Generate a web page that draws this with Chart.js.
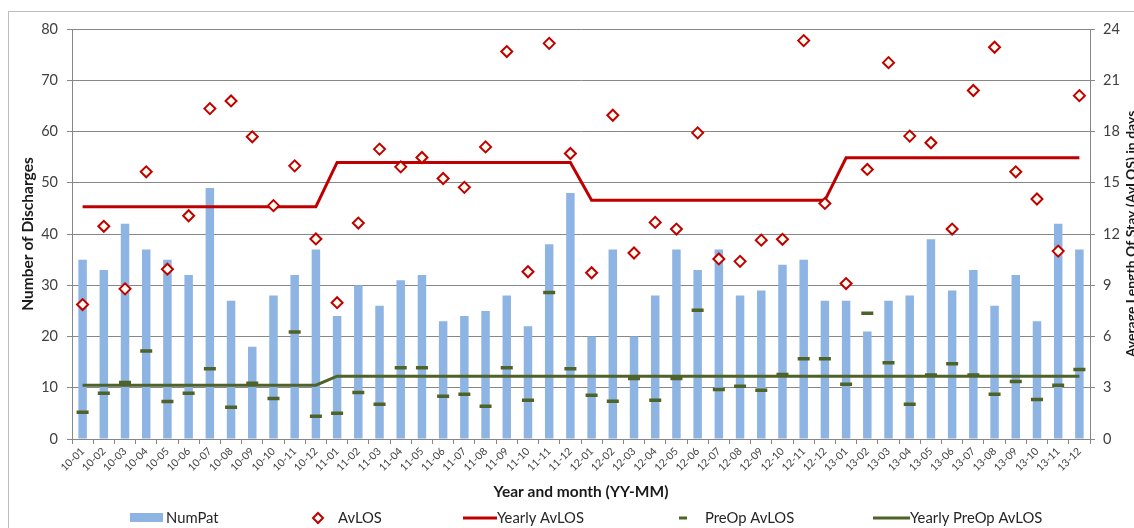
<!DOCTYPE html>
<html><head><meta charset="utf-8">
<script src="https://cdn.jsdelivr.net/npm/chart.js@4"></script>
<style>html,body{margin:0;padding:0;background:#fff;overflow:hidden}#wrap{width:1134px;height:528px;position:relative}</style>
</head><body><div id="wrap"><canvas id="c" width="1134" height="528"></canvas></div>
<script>
const months = ['10-01','10-02','10-03','10-04','10-05','10-06','10-07','10-08','10-09','10-10','10-11','10-12',
'11-01','11-02','11-03','11-04','11-05','11-06','11-07','11-08','11-09','11-10','11-11','11-12',
'12-01','12-02','12-03','12-04','12-05','12-06','12-07','12-08','12-09','12-10','12-11','12-12',
'13-01','13-02','13-03','13-04','13-05','13-06','13-07','13-08','13-09','13-10','13-11','13-12'];
const numPat = [35,33,42,37,35,32,49,27,18,28,32,37, 24,30,26,31,32,23,24,25,28,22,38,48,
20,37,20,28,37,33,37,28,29,34,35,27, 27,21,27,28,39,29,33,26,32,23,42,37];
const avLOS = [7.87,12.45,8.79,15.64,9.94,13.07,19.34,19.79,17.69,13.66,15.99,11.71,
7.98,12.64,16.97,15.93,16.48,15.25,14.73,17.10,22.68,9.79,23.16,16.71,
9.73,18.95,10.89,12.68,12.29,17.92,10.54,10.40,11.64,11.69,23.32,13.79,
9.10,15.78,22.03,17.73,17.34,12.29,20.40,22.93,15.64,14.05,11.00,20.10];
const preOpAvLOS = [1.57,2.68,3.31,5.15,2.19,2.68,4.11,1.86,3.27,2.37,6.26,1.33,
1.51,2.72,2.04,4.17,4.17,2.50,2.62,1.92,4.17,2.27,8.57,4.11,
2.56,2.21,3.54,2.27,3.54,7.53,2.90,3.09,2.86,3.78,4.70,4.70,
3.21,7.36,4.46,2.04,3.74,4.40,3.74,2.62,3.37,2.31,3.15,4.07];
const years = ['10','11','12','13'];
const yearlyAvLOS = [13.60, 16.19, 13.97, 16.46];
const yearlyPreOpAvLOS = [3.15, 3.68, 3.68, 3.68];
const leftAxis = {min:0, max:80, step:10};
const rightAxis = {min:0, max:24, step:3};

const byYear = arr => months.map(m => arr[years.indexOf(m.slice(0,2))]);

const FONT = 'Lato, "Noto Sans", sans-serif';
Chart.defaults.font.family = FONT;
const GRID = '#878787';
const TXT = '#404040';

const decor = {
  id:'decor',
  afterDraw(chart){
    const ctx = chart.ctx;
    ctx.save();
    ctx.strokeStyle = '#BDBDBD'; ctx.lineWidth = 1;
    ctx.strokeRect(8.5, 11.5, 1140, 530);
    ctx.fillStyle = '#1a1a1a';
    ctx.textAlign = 'center'; ctx.textBaseline = 'middle';
    const ca = chart.chartArea;
    const cy = (ca.top + ca.bottom)/2;
    ctx.font = 'bold 15.5px ' + FONT;
    ctx.save(); ctx.translate(28, cy); ctx.rotate(-Math.PI/2);
    ctx.fillText('Number of Discharges', 0, 0); ctx.restore();
    ctx.font = 'bold 14px ' + FONT;
    ctx.save(); ctx.translate(1131, cy); ctx.rotate(-Math.PI/2);
    ctx.fillText('Average Length Of Stay (AvLOS) in days', 0, 0); ctx.restore();
    ctx.font = 'bold 15.5px ' + FONT;
    ctx.fillText('Year and month (YY-MM)', (ca.left + ca.right)/2, 492);
    const ly = 518;
    ctx.font = '14.8px ' + FONT; ctx.textAlign = 'left';
    ctx.fillStyle = '#8DB4E2'; ctx.fillRect(130, 513, 33, 9);
    ctx.fillStyle = '#262626'; ctx.fillText('NumPat', 166, ly);
    ctx.beginPath(); ctx.moveTo(318, ly-5); ctx.lineTo(323, ly); ctx.lineTo(318, ly+5); ctx.lineTo(313, ly); ctx.closePath();
    ctx.fillStyle = '#fff'; ctx.fill(); ctx.strokeStyle = '#C00000'; ctx.lineWidth = 2; ctx.stroke();
    ctx.fillStyle = '#262626'; ctx.fillText('AvLOS', 338, ly);
    ctx.strokeStyle = '#C00000'; ctx.lineWidth = 3;
    ctx.beginPath(); ctx.moveTo(463, ly); ctx.lineTo(497, ly); ctx.stroke();
    ctx.fillText('Yearly AvLOS', 497, ly);
    ctx.strokeStyle = '#4F6228'; ctx.lineWidth = 3;
    ctx.beginPath(); ctx.moveTo(679, ly); ctx.lineTo(687, ly); ctx.stroke();
    ctx.fillText('PreOp AvLOS', 705, ly);
    ctx.beginPath(); ctx.moveTo(873, ly); ctx.lineTo(910, ly); ctx.stroke();
    ctx.fillText('Yearly PreOp AvLOS', 910, ly);
    ctx.restore();
  }
};

new Chart(document.getElementById('c'), {
  type:'bar',
  data:{
    labels: months,
    datasets:[
      {type:'bar', label:'NumPat', data:numPat, yAxisID:'y', backgroundColor:'#8DB4E2',
       barPercentage:0.4, categoryPercentage:1, order:10},
      {type:'line', label:'Yearly PreOp AvLOS', data:byYear(yearlyPreOpAvLOS), yAxisID:'y1',
       borderColor:'#4F6228', borderWidth:3, pointRadius:0, tension:0, order:4},
      {type:'line', label:'Yearly AvLOS', data:byYear(yearlyAvLOS), yAxisID:'y1',
       borderColor:'#C00000', borderWidth:3, pointRadius:0, tension:0, order:3},
      {type:'line', label:'PreOp AvLOS', data:preOpAvLOS, yAxisID:'y1', showLine:false,
       pointStyle:'line', pointRadius:6, pointBorderColor:'#4F6228', pointBorderWidth:3.5,
       borderColor:'#4F6228', order:2},
      {type:'line', label:'AvLOS', data:avLOS, yAxisID:'y1', showLine:false,
       pointStyle:'rectRot', pointRadius:5.5, pointBorderColor:'#C00000', pointBackgroundColor:'#FFFDF0',
       pointBorderWidth:2, borderColor:'#C00000', order:1}
    ]
  },
  options:{
    responsive:false, animation:false,
    layout:{padding:{top:29, left:0, right:0, bottom:0}},
    plugins:{legend:{display:false}, tooltip:{enabled:false}},
    scales:{
      x:{offset:true,
         grid:{offset:true, drawOnChartArea:false, drawTicks:true, tickLength:5, color:GRID},
         border:{color:GRID},
         ticks:{minRotation:45, maxRotation:45, autoSkip:false, font:{size:10.5}, color:TXT, padding:1},
         afterFit(s){ s.height = 89; }},
      y:{position:'left', min:leftAxis.min, max:leftAxis.max,
         ticks:{stepSize:leftAxis.step, font:{size:14.5}, color:TXT, padding:9},
         grid:{color:GRID, tickLength:5}, border:{color:GRID},
         afterFit(s){ s.width = 72; }},
      y1:{position:'right', min:rightAxis.min, max:rightAxis.max,
         ticks:{stepSize:rightAxis.step, font:{size:14.5}, color:TXT, padding:8},
         grid:{drawOnChartArea:false, tickLength:5, color:GRID}, border:{color:GRID},
         afterFit(s){ s.width = 44; }}
    }
  },
  plugins:[decor]
});
</script></body></html>
